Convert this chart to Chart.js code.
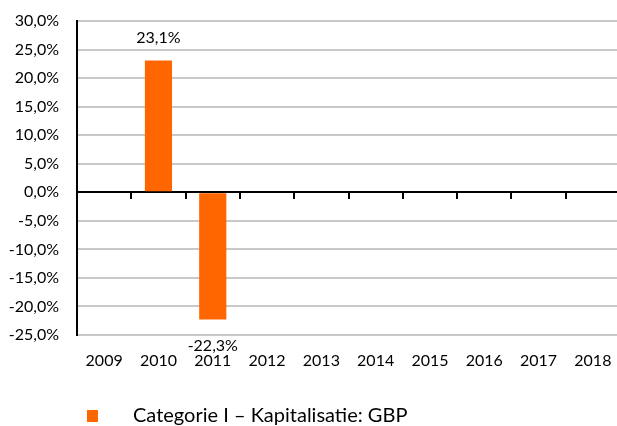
<!DOCTYPE html>
<html>
<head>
<meta charset="utf-8">
<title>Categorie I – Kapitalisatie: GBP</title>
<script src="https://cdn.jsdelivr.net/npm/chart.js@4/dist/chart.umd.min.js"></script>
<style>
    html, body {
        margin: 0;
        padding: 0;
        background: #FFF;
        overflow: hidden;
    }
</style>
</head>
<body>
<canvas id="rendement" width="620" height="426"></canvas>
<script>

// data
var years = ['2009', '2010', '2011', '2012', '2013', '2014', '2015', '2016', '2017', '2018'];
var rendement = [null, 23.1, -22.3, null, null, null, null, null, null, null];
var serieNaam = 'Categorie I – Kapitalisatie: GBP';
var yTicks = [-25, -20, -15, -10, -5, 0, 5, 10, 15, 20, 25, 30];

var oranje = '#FF6600';
var lettertype = 'Lato, "Open Sans", sans-serif';

function procent(v) {
    return v.toFixed(1).replace('.', ',') + '%';
}

// labels above / below the bars
var barLabels = {
    id: 'barLabels',
    afterDatasetsDraw: function (chart) {
        var ctx = chart.ctx;
        var meta = chart.getDatasetMeta(0);
        ctx.save();
        ctx.font = '16px ' + lettertype;
        ctx.fillStyle = '#000';
        ctx.textAlign = 'center';
        ctx.textBaseline = 'alphabetic';
        for (var i = 0; i < meta.data.length; i++) {
            var v = rendement[i];
            if (v === null) continue;
            var bar = meta.data[i];
            if (v >= 0) {
                ctx.fillText(procent(v), bar.x, bar.y - 17);
            } else {
                ctx.fillText(procent(v), bar.x, bar.y + 31);
            }
        }
        ctx.restore();
    }
};

// legend row at the bottom, square and text far apart like the original
var legendRow = {
    id: 'legendRow',
    afterDraw: function (chart) {
        var ctx = chart.ctx;
        var ds = chart.data.datasets[0];
        ctx.save();
        ctx.fillStyle = ds.backgroundColor;
        ctx.fillRect(87, 410, 11, 12);
        ctx.font = '20px ' + lettertype;
        ctx.fillStyle = '#000';
        ctx.textAlign = 'left';
        ctx.textBaseline = 'alphabetic';
        ctx.fillText(ds.label, 133, 422);
        ctx.restore();
    }
};

var ctx = document.getElementById('rendement').getContext('2d');
var grafiek = new Chart(ctx, {
    type: 'bar',
    data: {
        labels: years,
        datasets: [{
            label: serieNaam,
            data: rendement,
            backgroundColor: oranje,
            borderWidth: 0,
            categoryPercentage: 1,
            barPercentage: 0.5
        }]
    },
    options: {
        responsive: false,
        animation: false,
        layout: {
            padding: { top: 21, right: 0, bottom: 50, left: 0 }
        },
        plugins: {
            legend: { display: false },
            tooltip: { enabled: false }
        },
        scales: {
            x: {
                type: 'category',
                offset: true,
                grid: { display: false },
                border: { display: false },
                ticks: {
                    color: '#000',
                    font: { family: lettertype, size: 16 },
                    padding: 8,
                    maxRotation: 0
                },
                afterFit: function (scale) {
                    scale.height = 41;
                    scale.paddingLeft = 0;
                    scale.paddingRight = 0;
                }
            },
            // zero line with the small tick marks between the years
            x2: {
                type: 'category',
                labels: years,
                position: { y: 0 },
                offset: true,
                grid: {
                    offset: true,
                    drawOnChartArea: false,
                    drawTicks: true,
                    tickLength: 6,
                    color: '#000',
                    lineWidth: 2
                },
                border: { display: true, color: '#000', width: 2 },
                ticks: { display: false },
                afterFit: function (scale) {
                    scale.paddingLeft = 0;
                    scale.paddingRight = 0;
                }
            },
            y: {
                min: -25,
                max: 30,
                afterBuildTicks: function (scale) {
                    scale.ticks = yTicks.map(function (v) { return { value: v }; });
                },
                grid: {
                    drawTicks: false,
                    color: function (c) {
                        return c.tick && c.tick.value === 0 ? '#000' : '#C8C8C8';
                    },
                    lineWidth: 2
                },
                border: { display: true, color: '#000', width: 2 },
                ticks: {
                    color: '#000',
                    font: { family: lettertype, size: 16 },
                    padding: 18,
                    callback: function (v) { return procent(v); }
                },
                afterFit: function (scale) {
                    scale.width = 77;
                    scale.paddingTop = 0;
                    scale.paddingBottom = 0;
                }
            }
        }
    },
    plugins: [barLabels, legendRow]
});
</script>
</body>
</html>
